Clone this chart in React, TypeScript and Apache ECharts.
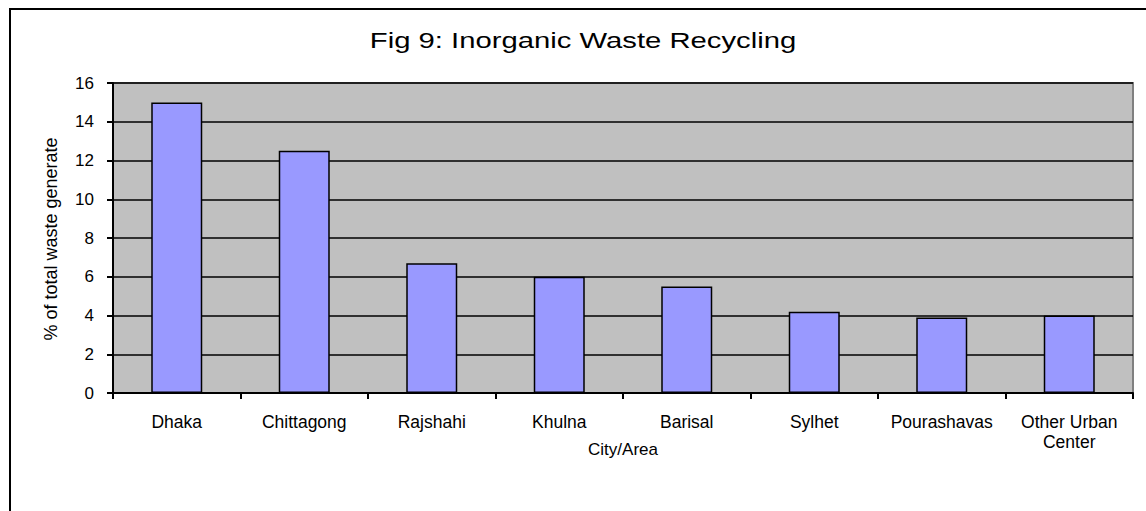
import React, { useEffect, useRef } from "react";
import * as echarts from "echarts";

const categories = [
  "Dhaka",
  "Chittagong",
  "Rajshahi",
  "Khulna",
  "Barisal",
  "Sylhet",
  "Pourashavas",
  "Other Urban\nCenter",
];
const values = [15, 12.5, 6.7, 6.0, 5.5, 4.2, 3.9, 4.0];
const titleText = "Fig 9: Inorganic Waste Recycling";
const yAxisName = "% of total waste generate";
const xAxisName = "City/Area";

export default function App() {
  const ref = useRef<HTMLDivElement>(null);
  useEffect(() => {
    if (!ref.current) return;
    const chart = echarts.init(ref.current, null, { renderer: "svg" });
    const font = "Liberation Sans, Arial, sans-serif";
    chart.setOption({
      animation: false,
      backgroundColor: "#ffffff",
      textStyle: { fontFamily: font },
      graphic: [
        {
          type: "rect",
          shape: { x: 10, y: 9, width: 1300, height: 700 },
          style: { fill: "none", stroke: "#000", lineWidth: 2 },
          z: 0,
        },
        {
          type: "text",
          x: 583,
          y: 40,
          scaleX: 1.33,
          style: {
            text: titleText,
            fontSize: 22,
            fontFamily: font,
            fill: "#000",
            align: "center",
            verticalAlign: "middle",
          },
        },
        {
          type: "text",
          x: 623,
          y: 449,
          style: {
            text: xAxisName,
            fontSize: 17,
            fontFamily: font,
            fill: "#000",
            align: "center",
            verticalAlign: "middle",
          },
        },
        {
          type: "text",
          x: 51,
          y: 239,
          rotation: Math.PI / 2,
          style: {
            text: yAxisName,
            fontSize: 18,
            fontFamily: font,
            fill: "#000",
            align: "center",
            verticalAlign: "middle",
          },
        },
      ],
      grid: {
        left: 113,
        top: 83,
        right: 13,
        bottom: 118,
        show: true,
        backgroundColor: "#C0C0C0",
        borderColor: "#808080",
        borderWidth: 2,
      },
      xAxis: {
        type: "category",
        data: categories,
        axisLine: { show: true, lineStyle: { color: "#000", width: 2 } },
        axisTick: { show: true, length: 6, lineStyle: { color: "#000", width: 2 } },
        axisLabel: {
          color: "#000",
          fontSize: 17.5,
          fontFamily: font,
          margin: 19,
          lineHeight: 20,
          interval: 0,
        },
        z: 5,
      },
      yAxis: {
        type: "value",
        min: 0,
        max: 16,
        interval: 2,
        axisLine: { show: true, lineStyle: { color: "#000", width: 2 } },
        axisTick: { show: true, length: 6, lineStyle: { color: "#000", width: 2 } },
        axisLabel: {
          color: "#000",
          fontSize: 17,
          fontFamily: font,
          margin: 19,
        },
        splitLine: { show: true, lineStyle: { color: "#000", width: 1.5 } },
      },
      series: [
        {
          type: "bar",
          data: values,
          barWidth: "40%",
          itemStyle: { color: "#9999FF", borderColor: "#000", borderWidth: 1.5 },
          z: 3,
        },
      ],
    });
    return () => chart.dispose();
  }, []);
  return (
    <div
      ref={ref}
      style={{ position: "fixed", left: 0, top: 0, width: 1146, height: 511 }}
    />
  );
}
